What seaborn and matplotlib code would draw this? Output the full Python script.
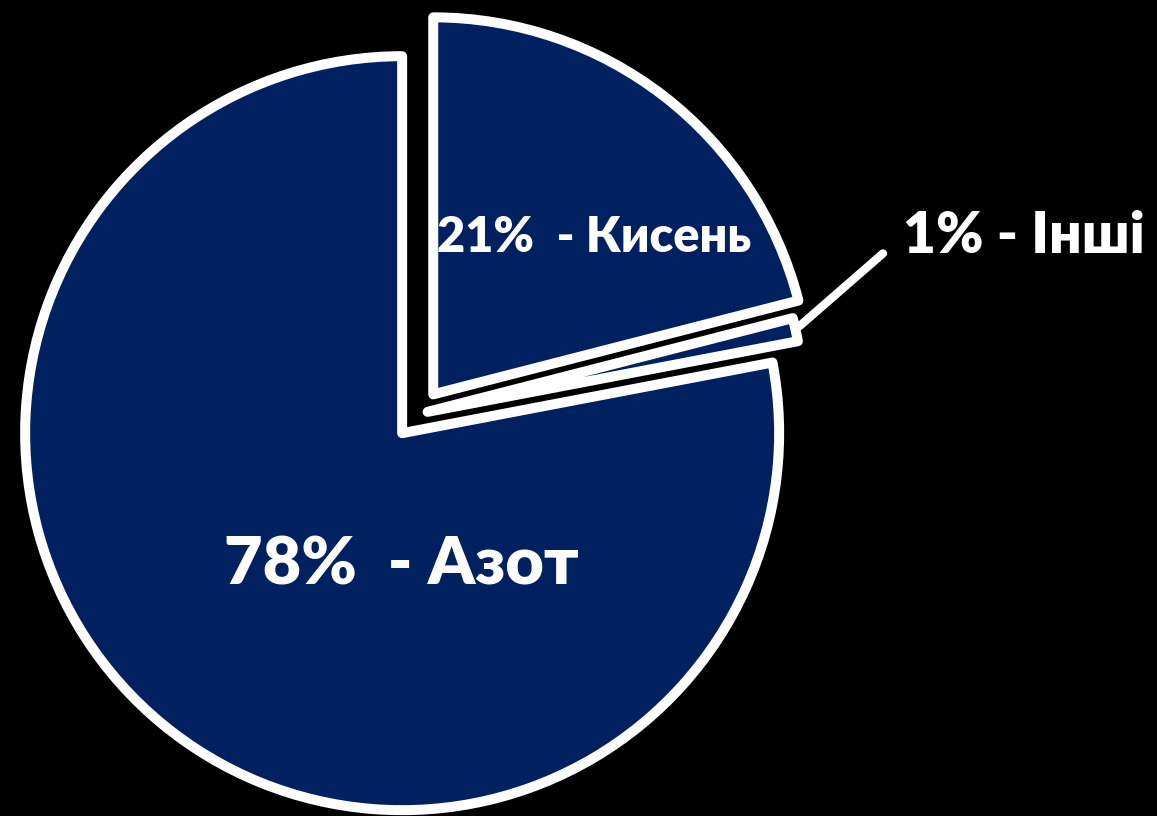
import numpy as np
import matplotlib
matplotlib.use("Agg")
import matplotlib.pyplot as plt
import seaborn as sns

# Data
labels = ["Азот", "Інші", "Кисень"]
values = [78, 1, 21]
explode = [0.066, 0.026, 0.066]
label_texts = ["78%  - Азот", "1% - Інші", "21%  - Кисень"]

sns.set_theme(style="white")
plt.rcParams['font.family'] = ['Lato', 'DejaVu Sans']

navy = "#002060"
W, H = 1157, 816
fig = plt.figure(figsize=(W / 100, H / 100), dpi=100, facecolor="black")
ax = fig.add_axes([0, 0, 1, 1])
ax.set_facecolor("black")

R = 377
cx, cy = 418, H - 414
wedges, _ = ax.pie(values, explode=[e * R for e in explode], startangle=90, counterclock=True,
                   colors=[navy] * 3, radius=R, center=(cx, cy), frame=True,
                   wedgeprops=dict(edgecolor="white", linewidth=7.2, joinstyle="round"))
ax.set_xlim(0, W)
ax.set_ylim(0, H)
ax.set_aspect("equal")
ax.axis("off")

ax.text(401, H - 565, label_texts[0], color="white", fontsize=48, fontweight="heavy",
        ha="center", va="center")
ax.text(594, H - 238, label_texts[2], color="white", fontsize=35, fontweight="heavy",
        ha="center", va="center")

# leader for small slice
w = wedges[1]
th = np.deg2rad((w.theta1 + w.theta2) / 2)
px = w.center[0] + w.r * np.cos(th)
py = w.center[1] + w.r * np.sin(th)
ax.annotate(label_texts[1], xy=(px, py), xytext=(903, H - 236), color="white",
            fontsize=41, fontweight="heavy", ha="left", va="center",
            arrowprops=dict(arrowstyle="-", color="white", lw=6, shrinkA=16, shrinkB=4,
                            relpos=(0, 0.5)))

fig.savefig("out.png", dpi=100, facecolor="black")
